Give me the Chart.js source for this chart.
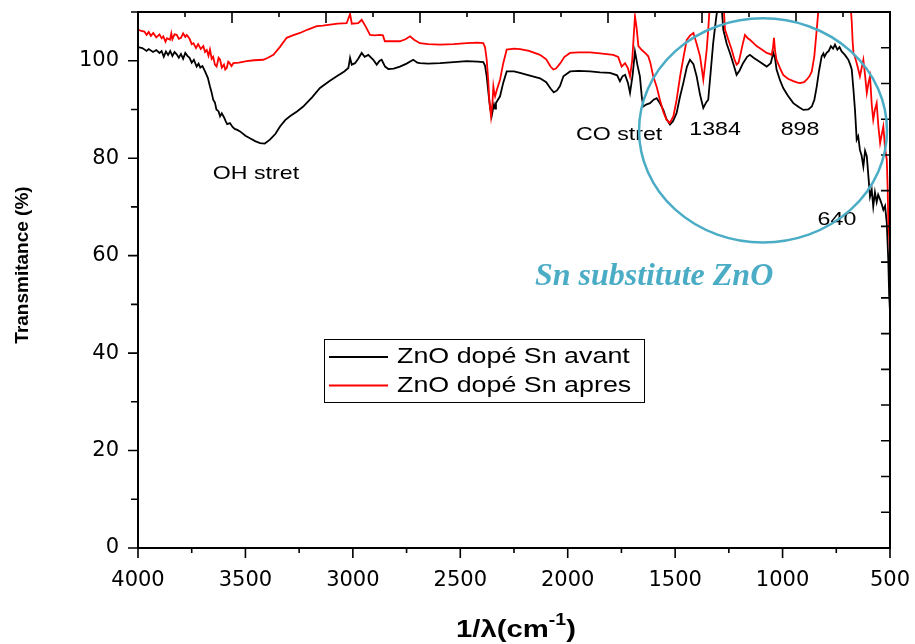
<!DOCTYPE html>
<html><head><meta charset="utf-8">
<script src="https://cdn.jsdelivr.net/npm/chart.js@4.4.0/dist/chart.umd.min.js"></script>
<style>html,body{margin:0;padding:0;background:#fff;overflow:hidden}#wrap{width:915px;height:644px}</style>
</head><body><div id="wrap"><canvas id="c" width="915" height="644"></canvas></div>
<script>
const xTickValues = [4000, 3500, 3000, 2500, 2000, 1500, 1000, 500];
const yTickValues = [0, 20, 40, 60, 80, 100];
const seriesLabels = ['ZnO dopé Sn avant', 'ZnO dopé Sn apres'];

const wnAvant = [4000,3980,3960,3950,3930,3915,3900,3890,3880,3870,3860,3850,3840,3830,3820,3810,3800,3790,3780,3770,3760,3750,3740,3727,3718,3710,3700,3688,3675,3665,3658,3650,3642,3635,3625,3618,3610,3600,3592,3585,3572,3560,3550,3538,3525,3500,3479,3455,3432,3410,3386,3360,3339,3315,3293,3260,3231,3190,3153,3110,3075,3040,3021,3013,3005,2990,2975,2959,2945,2928,2905,2889,2875,2866,2850,2835,2810,2781,2750,2719,2700,2688,2650,2594,2530,2470,2420,2393,2385,2377,2368,2362,2354,2348,2343,2338,2334,2315,2300,2284,2250,2222,2180,2129,2100,2080,2065,2050,2036,2020,1989,1950,1896,1850,1803,1770,1757,1745,1733,1720,1710,1698,1687,1675,1664,1655,1648,1635,1617,1600,1586,1570,1555,1540,1524,1510,1493,1478,1462,1445,1431,1415,1400,1384,1369,1355,1346,1335,1323,1310,1299,1285,1276,1260,1245,1230,1214,1200,1184,1165,1152,1135,1121,1100,1074,1055,1043,1035,1028,1012,997,975,950,925,903,880,864,852,841,830,818,810,805,795,785,775,765,756,745,735,725,710,694,685,678,670,663,655,648,640,632,624,616,608,600,593,585,578,570,562,555,546,538,531,523,515,508,504,500];
const tAvant = [102.8,102.6,102.0,102.4,101.8,102.2,101.6,102.0,100.8,101.9,101.2,102.0,101.0,101.8,101.3,100.6,101.4,100.4,101.6,101.0,100.6,99.6,100.2,98.8,99.4,98.6,98.9,97.8,96.5,94.7,93.6,92.0,91.4,90.0,89.6,88.6,89.2,88.4,87.6,87.0,87.2,86.4,86.0,85.8,85.5,84.6,84.1,83.5,83.1,83.0,83.8,85.0,86.5,87.8,88.6,89.6,90.6,92.5,94.4,95.8,96.8,97.8,98.5,100.6,99.2,99.5,100.4,101.6,100.8,101.2,100.2,99.2,100.0,100.2,98.8,98.3,98.4,98.8,99.4,100.2,99.6,99.5,99.4,99.5,99.7,99.9,99.8,99.7,99.0,96.8,93.0,90.6,88.6,90.0,91.0,90.2,91.3,92.7,95.5,97.8,97.8,97.5,97.0,96.4,95.6,94.3,93.5,93.9,94.8,96.8,97.8,97.9,97.8,97.6,97.5,97.0,95.8,96.8,97.1,95.5,93.4,97.0,101.9,99.0,96.8,92.5,90.6,91.0,91.3,92.0,92.3,91.2,89.9,88.0,86.9,87.6,89.3,92.5,95.4,98.8,100.2,99.3,96.8,93.0,90.3,91.5,92.0,97.5,103.6,108.5,112,112,106.4,103.5,101.6,99.5,97.1,98.0,99.5,100.8,101.2,100.6,100.2,99.6,98.8,99.5,101.6,100.5,98.2,96.0,94.4,92.8,91.3,90.5,89.9,90.0,90.6,92.0,94.7,98.0,100.9,101.5,100.8,101.6,102.0,103.0,102.5,103.3,102.3,102.8,101.9,101.2,100.2,99.2,98.2,94.0,89.9,83.8,84.5,81.7,80.5,78.3,81.5,80.4,76.0,72.1,73.5,70.1,73.0,71.0,72.5,71.5,70.5,69.4,70.2,66.7,59.1,52.0,48.5];

const wnApres = [4000,3985,3970,3960,3950,3940,3929,3915,3900,3890,3882,3872,3865,3851,3845,3840,3830,3820,3810,3800,3790,3780,3773,3760,3750,3742,3730,3720,3708,3696,3688,3680,3672,3665,3657,3650,3642,3634,3625,3618,3610,3600,3594,3587,3580,3575,3565,3556,3530,3494,3460,3417,3395,3370,3340,3308,3280,3246,3210,3168,3140,3106,3070,3029,3013,3005,2975,2959,2940,2920,2900,2874,2860,2851,2820,2781,2755,2734,2715,2688,2650,2594,2530,2470,2420,2393,2385,2377,2370,2365,2357,2350,2346,2342,2338,2330,2315,2300,2284,2250,2222,2180,2129,2100,2080,2067,2055,2036,2015,1989,1950,1896,1850,1788,1765,1749,1740,1733,1720,1710,1700,1687,1680,1671,1655,1640,1625,1615,1602,1585,1571,1555,1540,1525,1508,1493,1477,1460,1446,1430,1415,1400,1384,1369,1360,1353,1345,1338,1300,1275,1268,1250,1237,1225,1214,1205,1198,1185,1175,1162,1152,1135,1121,1100,1074,1060,1051,1045,1040,1035,1028,1012,997,975,950,930,919,900,888,875,864,852,841,830,700,683,678,674,670,662,655,648,640,632,624,616,608,600,593,585,578,570,562,554,546,538,531,523,515,511,508,504,500];
const tApres = [106.4,106.1,106.0,105.3,105.9,105.1,105.7,104.8,105.4,104.6,105.0,103.9,104.6,104.3,105.6,104.4,105.4,105.3,104.5,104.7,105.6,104.9,105.3,104.5,103.4,103.6,102.6,103.4,102.4,103.0,101.8,102.2,101.0,102.3,100.4,100.8,99.2,98.8,100.6,100.2,98.6,99.2,98.2,98.5,99.8,99.6,98.9,99.5,99.6,99.9,100.1,100.2,100.6,101.2,102.8,104.7,105.2,105.7,106.4,107.1,107.2,107.4,107.6,107.7,109.6,107.6,107.7,108.4,107.0,105.3,105.2,105.3,105.2,104.0,104.0,104.0,104.4,105.0,104.3,103.6,103.4,103.3,103.4,103.6,103.7,103.6,102.8,100.2,96.0,92.0,88.6,91.5,94.7,93.5,92.7,94.0,96.1,99.5,102.3,102.5,102.4,102.0,101.2,100.3,98.8,98.2,98.4,99.4,100.8,101.6,101.7,101.7,101.5,101.2,100.8,98.8,99.2,99.5,98.5,96.8,100.0,109.1,107.0,103.0,102.2,101.6,100.9,99.5,96.8,94.5,92.0,89.5,87.9,87.2,88.6,92.0,96.8,101.0,104.3,105.2,105.7,103.5,100.9,96.1,99.5,102.3,107,112,113,112,106.4,104.0,102.3,100.4,99.2,99.6,100.9,103.5,105.3,104.6,104.3,103.6,103.0,102.4,101.6,101.4,101.2,102.5,104.7,102.0,100.2,98.5,97.1,96.3,95.8,95.5,95.4,95.6,96.1,96.8,97.8,101.0,106.4,112,112,111,108,104,101.6,100.6,99.5,98.3,96.8,98.5,100.2,97.0,93.4,95.5,96.8,91.0,87.9,90.0,91.3,86.5,83.1,85.0,86.5,82.0,79.7,74,67.3,64,60];

const peakNotes = [
  { text: 'OH stret', wn: 3451, t: 76.8 },
  { text: 'CO stret', wn: 1761, t: 84.8 },
  { text: '1384', wn: 1314, t: 85.8 },
  { text: '898', wn: 919, t: 85.8 },
  { text: '640', wn: 747, t: 67.4 }
];

const SX = 1.22;
const SANS = "'Liberation Sans', Arial, sans-serif";

function sText(ctx, text, x, y, align, sx) {
  ctx.save();
  ctx.translate(x, y);
  ctx.scale(sx, 1);
  ctx.textAlign = align;
  ctx.fillText(text, 0, 0);
  ctx.restore();
}

function noPad(s) { s.paddingLeft = 0; s.paddingRight = 0; s.paddingTop = 0; s.paddingBottom = 0; }

function pairs(xs, ys) {
  const n = Math.min(xs.length, ys.length);
  const out = [];
  for (let i = 0; i < n; i++) out.push({ x: xs[i], y: ys[i] });
  return out;
}

const decor = {
  id: 'decor',
  afterDatasetsDraw(chart) {
    const { ctx, chartArea: a, scales } = chart;
    const x = scales.x, y = scales.y, xt = scales.xTop, yr = scales.yRight;
    ctx.save();
    ctx.strokeStyle = '#000';
    ctx.lineWidth = 1.6;
    ctx.beginPath();
    for (let v = 500; v <= 4000; v += 250) {
      const px = x.getPixelForValue(v);
      const L = v % 500 === 0 ? 10 : 5;
      ctx.moveTo(px, a.bottom); ctx.lineTo(px, a.bottom + L);
    }
    for (let v = 0; v <= 110; v += 10) {
      const py = y.getPixelForValue(v);
      const L = v % 20 === 0 ? 10 : 7;
      ctx.moveTo(a.left, py); ctx.lineTo(a.left - L, py);
    }
    for (let k = 1; k < 16; k++) {
      const px = xt.getPixelForValue(k);
      const L = k % 2 === 0 ? 11 : 5;
      ctx.moveTo(px, a.top); ctx.lineTo(px, a.top + L);
    }
    for (let k = 1; k < 15; k++) {
      const py = yr.getPixelForValue(k);
      ctx.moveTo(a.right, py); ctx.lineTo(a.right - 9, py);
    }
    ctx.stroke();
    ctx.lineWidth = 2;
    ctx.strokeRect(a.left, a.top, a.right - a.left, a.bottom - a.top);

    ctx.fillStyle = '#000';
    ctx.font = '19px ' + SANS;
    ctx.textBaseline = 'middle';
    peakNotes.forEach(n => {
      sText(ctx, n.text, x.getPixelForValue(n.wn), y.getPixelForValue(n.t), 'center', SX);
    });

    const cx = x.getPixelForValue(1091), cy = y.getPixelForValue(85.7);
    const rx = Math.abs(x.getPixelForValue(1091 - 577) - cx);
    const ry = Math.abs(y.getPixelForValue(85.7 + 23) - cy);
    ctx.strokeStyle = '#4BACC6';
    ctx.lineWidth = 2.5;
    ctx.beginPath();
    ctx.ellipse(cx, cy, rx, ry, 0, 0, Math.PI * 2);
    ctx.stroke();

    ctx.fillStyle = '#4BACC6';
    ctx.font = "italic bold 32px 'Liberation Serif', 'Times New Roman', serif";
    ctx.textAlign = 'center';
    ctx.fillText('Sn substitute ZnO', x.getPixelForValue(1598), y.getPixelForValue(55.6));

    const ds = chart.data.datasets;
    const bx = a.left + 186, by = a.top + 327, bw = 320, bh = 63;
    ctx.fillStyle = '#fff';
    ctx.fillRect(bx, by, bw, bh);
    ctx.strokeStyle = '#000';
    ctx.lineWidth = 1;
    ctx.strokeRect(bx + 0.5, by + 0.5, bw, bh);
    ctx.font = '22px ' + SANS;
    ctx.textBaseline = 'middle';
    ds.forEach((d, i) => {
      const ly = by + 18 + i * 28.5;
      ctx.strokeStyle = d.borderColor;
      ctx.lineWidth = 2;
      ctx.beginPath();
      ctx.moveTo(bx + 5, ly); ctx.lineTo(bx + 64, ly);
      ctx.stroke();
      ctx.fillStyle = '#000';
      sText(ctx, d.label, bx + 73, ly, 'left', SX);
    });

    ctx.fillStyle = '#000';
    ctx.save();
    ctx.translate(23, 265);
    ctx.rotate(-Math.PI / 2);
    ctx.font = 'bold 19px ' + SANS;
    ctx.textAlign = 'center';
    ctx.textBaseline = 'middle';
    ctx.fillText('Transmitance (%)', 0, 0);
    ctx.restore();

    ctx.save();
    const big = 'bold 24px ' + SANS, small = 'bold 16px ' + SANS;
    ctx.font = big;
    const w1 = ctx.measureText('1/λ(cm').width;
    const w3 = ctx.measureText(')').width;
    ctx.font = small;
    const w2 = ctx.measureText('-1').width;
    const total = (w1 + w2 + w3) * SX;
    let tx = 516 - total / 2;
    const base = 637;
    ctx.textBaseline = 'alphabetic';
    ctx.font = big; sText(ctx, '1/λ(cm', tx, base, 'left', SX); tx += w1 * SX;
    ctx.font = small; sText(ctx, '-1', tx, base - 12, 'left', SX); tx += w2 * SX;
    ctx.font = big; sText(ctx, ')', tx, base, 'left', SX);
    ctx.restore();

    ctx.restore();
  }
};

const tickFont = { family: "'DejaVu Sans', sans-serif", size: 21 };

new Chart(document.getElementById('c'), {
  type: 'line',
  data: {
    datasets: [
      { label: seriesLabels[0], data: pairs(wnAvant, tAvant), borderColor: '#000000', borderWidth: 1.8, pointRadius: 0, tension: 0, fill: false, order: 1 },
      { label: seriesLabels[1], data: pairs(wnApres, tApres), borderColor: '#FF0000', borderWidth: 1.8, pointRadius: 0, tension: 0, fill: false, order: 0 }
    ]
  },
  options: {
    responsive: false,
    animation: false,
    devicePixelRatio: 1,
    layout: { padding: { left: 0, right: 25, top: 12, bottom: 0 } },
    plugins: { legend: { display: false }, tooltip: { enabled: false } },
    scales: {
      x: {
        type: 'linear', position: 'bottom', min: 500, max: 4000, reverse: true,
        grid: { display: false, drawTicks: false }, border: { display: false },
        afterBuildTicks: s => { s.ticks = xTickValues.map(v => ({ value: v })); },
        afterFit: s => { s.height = 96; noPad(s); },
        ticks: { font: tickFont, color: '#000', padding: 20, autoSkip: false, maxRotation: 0, callback: v => String(v) }
      },
      y: {
        type: 'linear', position: 'left', min: 0, max: 110,
        grid: { display: false, drawTicks: false }, border: { display: false },
        afterBuildTicks: s => { s.ticks = yTickValues.map(v => ({ value: v })); },
        afterFit: s => { s.width = 138; noPad(s); },
        ticks: { font: tickFont, color: '#000', padding: 19, callback: v => String(v) }
      },
      xTop: { type: 'linear', position: 'top', min: 0, max: 16, display: false, afterFit: noPad },
      yRight: { type: 'linear', position: 'right', min: 0, max: 15, display: false, afterFit: noPad }
    }
  },
  plugins: [decor]
});
</script>
</body></html>
